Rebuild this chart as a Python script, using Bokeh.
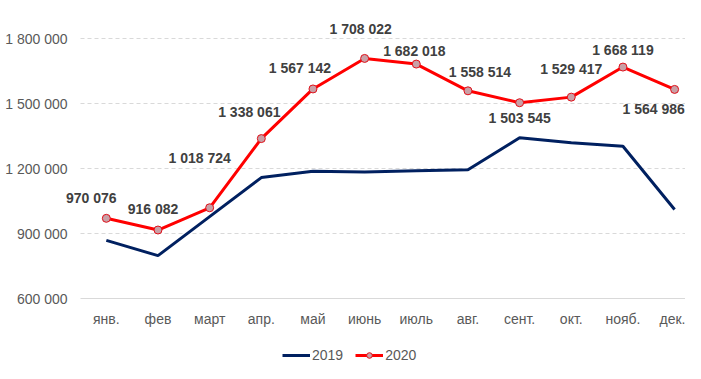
from bokeh.plotting import figure
from bokeh.models import ColumnDataSource, FixedTicker, Range1d, Legend, LegendItem, LabelSet, LinearAxis
from bokeh.core.properties import value
from bokeh.embed import file_html
from bokeh.resources import INLINE

months = ["янв.", "фев", "март", "апр.", "май", "июнь", "июль", "авг.", "сент.", "окт.", "нояб.", "дек."]
y2019 = [868000, 798000, 978000, 1158000, 1187000, 1184000, 1190000, 1194000, 1342000, 1319000, 1303000, 1011000]
y2020 = [970076, 916082, 1018724, 1338061, 1567142, 1708022, 1682018, 1558514, 1503545, 1529417, 1668119, 1564986]
y_ticks = [600000, 900000, 1200000, 1500000, 1800000]

# label placement (pixel offsets, style only; positive dy = up)
lab_dx = [-15, -5, -10, -12, -13, -4, -2, 12, 0, 0, 0, -21]
lab_dy = [20, 21, 50, 27, 21, 29, 13, 19, -15, 28, 17, -20]

def fmt(v):
    return f"{v:,}".replace(",", " ")

x = list(range(len(months)))
x_lo = -0.5
x_end = 11.211
src19 = ColumnDataSource(dict(x=x, y=y2019))
src20 = ColumnDataSource(dict(x=x, y=y2020, lab=[fmt(v) for v in y2020], dx=lab_dx, dy=lab_dy))
grid_src = ColumnDataSource(dict(x0=[x_lo] * 4, x1=[x_end] * 4, y=y_ticks[1:]))

FONT = "Liberation Sans"

p = figure(width=685, height=363, output_backend="svg", toolbar_location=None,
           x_range=Range1d(-2.0486, x_end), y_range=Range1d(300000, 1975385),
           x_axis_location=None, y_axis_location=None, min_border=0)
p.outline_line_color = None
p.background_fill_color = "white"
p.border_fill_color = "white"
p.xgrid.visible = False
p.ygrid.visible = False

# gridlines (dashed)
p.segment(x0="x0", x1="x1", y0="y", y1="y", source=grid_src,
          line_color="#d9d9d9", line_dash="4 3", line_width=1)

xaxis = LinearAxis(fixed_location=600000, bounds=(x_lo, x_end))
xaxis.ticker = FixedTicker(ticks=x)
xaxis.major_label_overrides = {i: m for i, m in enumerate(months)}
xaxis.axis_line_color = "#d9d9d9"
xaxis.major_tick_line_color = None
xaxis.minor_tick_line_color = None
xaxis.major_tick_out = 0
xaxis.major_tick_in = 0
xaxis.major_label_text_font = FONT
xaxis.major_label_text_font_size = "14px"
xaxis.major_label_text_color = "#595959"
xaxis.major_label_standoff = 12
p.add_layout(xaxis, "below")

yaxis = LinearAxis(fixed_location=x_lo)
yaxis.ticker = FixedTicker(ticks=y_ticks)
yaxis.major_label_overrides = {t: fmt(t) for t in y_ticks}
yaxis.axis_line_color = None
yaxis.major_tick_line_color = None
yaxis.minor_tick_line_color = None
yaxis.major_tick_out = 0
yaxis.major_tick_in = 0
yaxis.major_label_text_font = FONT
yaxis.major_label_text_font_size = "14px"
yaxis.major_label_text_color = "#595959"
yaxis.major_label_standoff = 13
p.add_layout(yaxis, "left")

r19 = p.line("x", "y", source=src19, line_color="#002060", line_width=3)
r20 = p.line("x", "y", source=src20, line_color="#ff0000", line_width=3)
m20 = p.scatter("x", "y", source=src20, size=8, fill_color="#c9a0a6", line_color="#e0101a", line_width=1)

labels = LabelSet(x="x", y="y", text="lab", source=src20, x_offset="dx", y_offset="dy",
                  text_font=value(FONT), text_font_style="bold", text_font_size="14px",
                  text_color="#404040", text_align="center", text_baseline="middle")
p.add_layout(labels)

legend = Legend(items=[LegendItem(label="2019", renderers=[r19]),
                       LegendItem(label="2020", renderers=[r20, m20])],
                orientation="horizontal", location=(282, 0))
legend.label_text_font = FONT
legend.label_text_font_size = "14px"
legend.label_text_color = "#595959"
legend.glyph_width = 28
legend.label_standoff = 2
legend.spacing = 12
legend.padding = 0
legend.margin = 0
legend.label_height = 14
legend.glyph_height = 14
legend.border_line_color = None
legend.background_fill_alpha = 0
p.add_layout(legend, "center")

open("out.html", "w").write(file_html(p, INLINE))
